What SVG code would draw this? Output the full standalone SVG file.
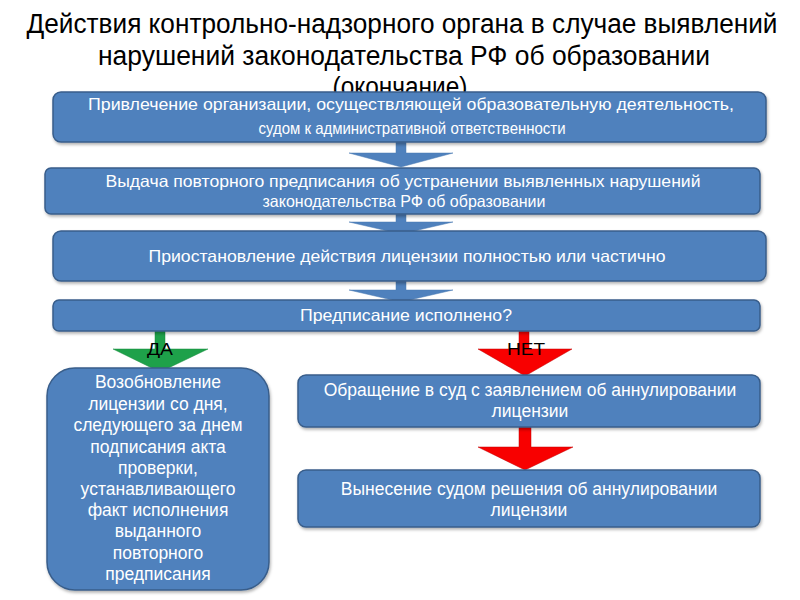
<svg xmlns="http://www.w3.org/2000/svg" width="800" height="600" viewBox="0 0 800 600">
<defs>
<filter id="sh" x="-5%" y="-10%" width="110%" height="130%">
<feDropShadow dx="1" dy="2" stdDeviation="1.5" flood-color="#000" flood-opacity="0.3"/>
</filter>
<clipPath id="tc"><rect x="0" y="0" width="800" height="92"/></clipPath>
<style>
.box{fill:#4f81bd;stroke:#385d8a;stroke-width:1.5;filter:url(#sh)}
.t{font-family:"Liberation Sans",Arial,sans-serif;fill:#fff;text-anchor:middle}
.n{font-size:16.5px}
.w{font-size:17.5px}
.title{font-family:"Liberation Sans",Arial,sans-serif;font-size:27px;fill:#000;text-anchor:middle}
.lbl{font-family:"Liberation Sans",Arial,sans-serif;font-size:17px;fill:#000;text-anchor:middle}
.ab{fill:#4f81bd;stroke:#4a7ab3;stroke-width:0.5}
.ag{fill:#1ea14a;stroke:#178a3c;stroke-width:0.5}
.ar{fill:#f80000;stroke:#c00000;stroke-width:0.5}
</style>
</defs>
<rect width="800" height="600" fill="#fff"/>
<g id="title">
<text class="title" x="402" y="33" textLength="751" lengthAdjust="spacingAndGlyphs">Действия контрольно-надзорного органа в случае выявлений</text>
<text class="title" x="404" y="65" textLength="612" lengthAdjust="spacingAndGlyphs">нарушений законодательства РФ об образовании</text>
<text class="title" x="400" y="96" textLength="135" lengthAdjust="spacingAndGlyphs" clip-path="url(#tc)">(окончание)</text>
</g>
<g id="connectors">
<path class="ab" d="M396,142 H406 V153 H453 L401,167 L349,153 H396 Z"/>
<path class="ab" d="M396,214 H406 V222 H453 L401,234 L349,222 H396 Z"/>
<path class="ab" d="M396,281 H406 V290 H453 L401,302 L349,290 H396 Z"/>
<path class="ag" d="M155,331 H165 V349 H208 L160,372 L113,349 H155 Z"/>
<path class="ar" d="M519,331 H529 V349 H572 L525,376 L478,349 H519 Z"/>
<path class="ar" d="M519,427 H531 V447 H573 L525,470 L478,447 H519 Z"/>
<text class="lbl" x="160" y="355" textLength="26" lengthAdjust="spacingAndGlyphs">ДА</text>
<text class="lbl" x="526" y="355" textLength="38" lengthAdjust="spacingAndGlyphs">НЕТ</text>
</g>
<g id="n1">
<rect class="box" x="53" y="92" width="713" height="50" rx="8"/>
<text class="t n" x="411" y="110" textLength="646" lengthAdjust="spacingAndGlyphs">Привлечение организации, осуществляющей образовательную деятельность,</text>
<text class="t n" x="412" y="134" textLength="307" lengthAdjust="spacingAndGlyphs">судом  к административной ответственности</text>
</g>
<g id="n2">
<rect class="box" x="45" y="168" width="715" height="46" rx="6"/>
<text class="t n" x="403" y="187" textLength="595" lengthAdjust="spacingAndGlyphs">Выдача повторного предписания об устранении выявленных нарушений</text>
<text class="t n" x="404" y="207" textLength="283" lengthAdjust="spacingAndGlyphs">законодательства РФ об образовании</text>
</g>
<g id="n3">
<rect class="box" x="53" y="231" width="713" height="50" rx="8"/>
<text class="t n" x="407" y="262" textLength="517" lengthAdjust="spacingAndGlyphs">Приостановление действия лицензии полностью или частично</text>
</g>
<g id="n4">
<rect class="box" x="53" y="300" width="707" height="31" rx="6"/>
<text class="t n" x="406" y="321" textLength="212" lengthAdjust="spacingAndGlyphs">Предписание исполнено?</text>
</g>
<g id="n5">
<rect class="box" x="47" y="368" width="222" height="222" rx="28"/>
<text class="t w" x="158" y="388">Возобновление</text>
<text class="t w" x="158" y="410">лицензии со дня,</text>
<text class="t w" x="158" y="431">следующего за днем</text>
<text class="t w" x="158" y="453">подписания акта</text>
<text class="t w" x="158" y="474">проверки,</text>
<text class="t w" x="158" y="495">устанавливающего</text>
<text class="t w" x="158" y="516">факт исполнения</text>
<text class="t w" x="158" y="537">выданного</text>
<text class="t w" x="158" y="559">повторного</text>
<text class="t w" x="158" y="580">предписания</text>
</g>
<g id="n6">
<rect class="box" x="298" y="375" width="462" height="52" rx="8"/>
<text class="t w" x="530" y="396">Обращение в суд с заявлением об аннулировании</text>
<text class="t w" x="530" y="417">лицензии</text>
</g>
<g id="n7">
<rect class="box" x="298" y="470" width="462" height="57" rx="8"/>
<text class="t w" x="529" y="495">Вынесение судом решения об аннулировании</text>
<text class="t w" x="529" y="516">лицензии</text>
</g>
</svg>
